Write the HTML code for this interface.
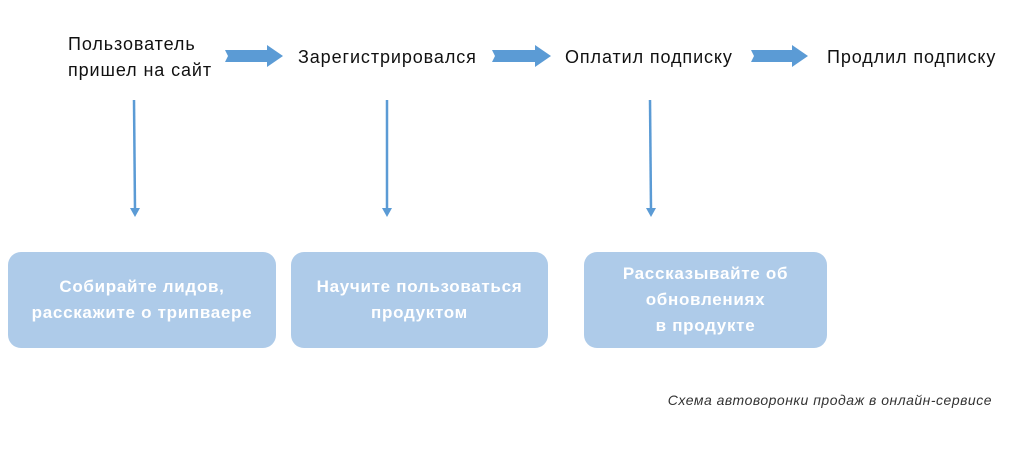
<!DOCTYPE html>
<html><head><meta charset="utf-8"><style>
body{margin:0;width:1024px;height:460px;background:#fff;position:relative;overflow:hidden;font-family:"Liberation Sans","DejaVu Sans",sans-serif;}
.t{position:absolute;font-size:18px;letter-spacing:0.9px;color:#111;line-height:26px;white-space:nowrap}
.b{position:absolute;top:252px;height:96px;background:#aecbe9;border-radius:13px;color:#fff;font-weight:bold;font-size:17px;letter-spacing:0.7px;line-height:26px;display:flex;align-items:center;justify-content:center;text-align:center}
</style></head><body>
<div class="t" style="left:68px;top:31px">Пользователь<br>пришел на сайт</div>
<div class="t" style="left:298px;top:44px">Зарегистрировался</div>
<div class="t" style="left:565px;top:44px">Оплатил подписку</div>
<div class="t" style="left:827px;top:44px">Продлил подписку</div>
<svg width="1024" height="460" style="position:absolute;left:0;top:0">
<g fill="#5b9bd5">
<polygon points="225,50 267,50 267,45 283,56 267,67 267,62 225,62 228,56"/>
<polygon points="492,50 535,50 535,45 551,56 535,67 535,62 492,62 495,56"/>
<polygon points="751,50 792,50 792,45 808,56 792,67 792,62 751,62 754,56"/>
</g>
<g stroke="#5b9bd5" stroke-width="2.5">
<line x1="134" y1="100" x2="135" y2="210"/>
<line x1="387" y1="100" x2="387" y2="210"/>
<line x1="650" y1="100" x2="651" y2="210"/>
</g>
<g fill="#5b9bd5">
<polygon points="130,208 140,208 135,217"/>
<polygon points="382,208 392,208 387,217"/>
<polygon points="646,208 656,208 651,217"/>
</g>
</svg>
<div class="b" style="left:8px;width:268px">Собирайте лидов,<br>расскажите о трипваере</div>
<div class="b" style="left:291px;width:257px">Научите пользоваться<br>продуктом</div>
<div class="b" style="left:584px;width:243px">Рассказывайте об<br>обновлениях<br>в продукте</div>
<div class="t" style="right:32px;top:390px;font-size:14px;letter-spacing:0.5px;font-style:italic;color:#333;line-height:20px">Схема автоворонки продаж в онлайн-сервисе</div>
</body></html>
